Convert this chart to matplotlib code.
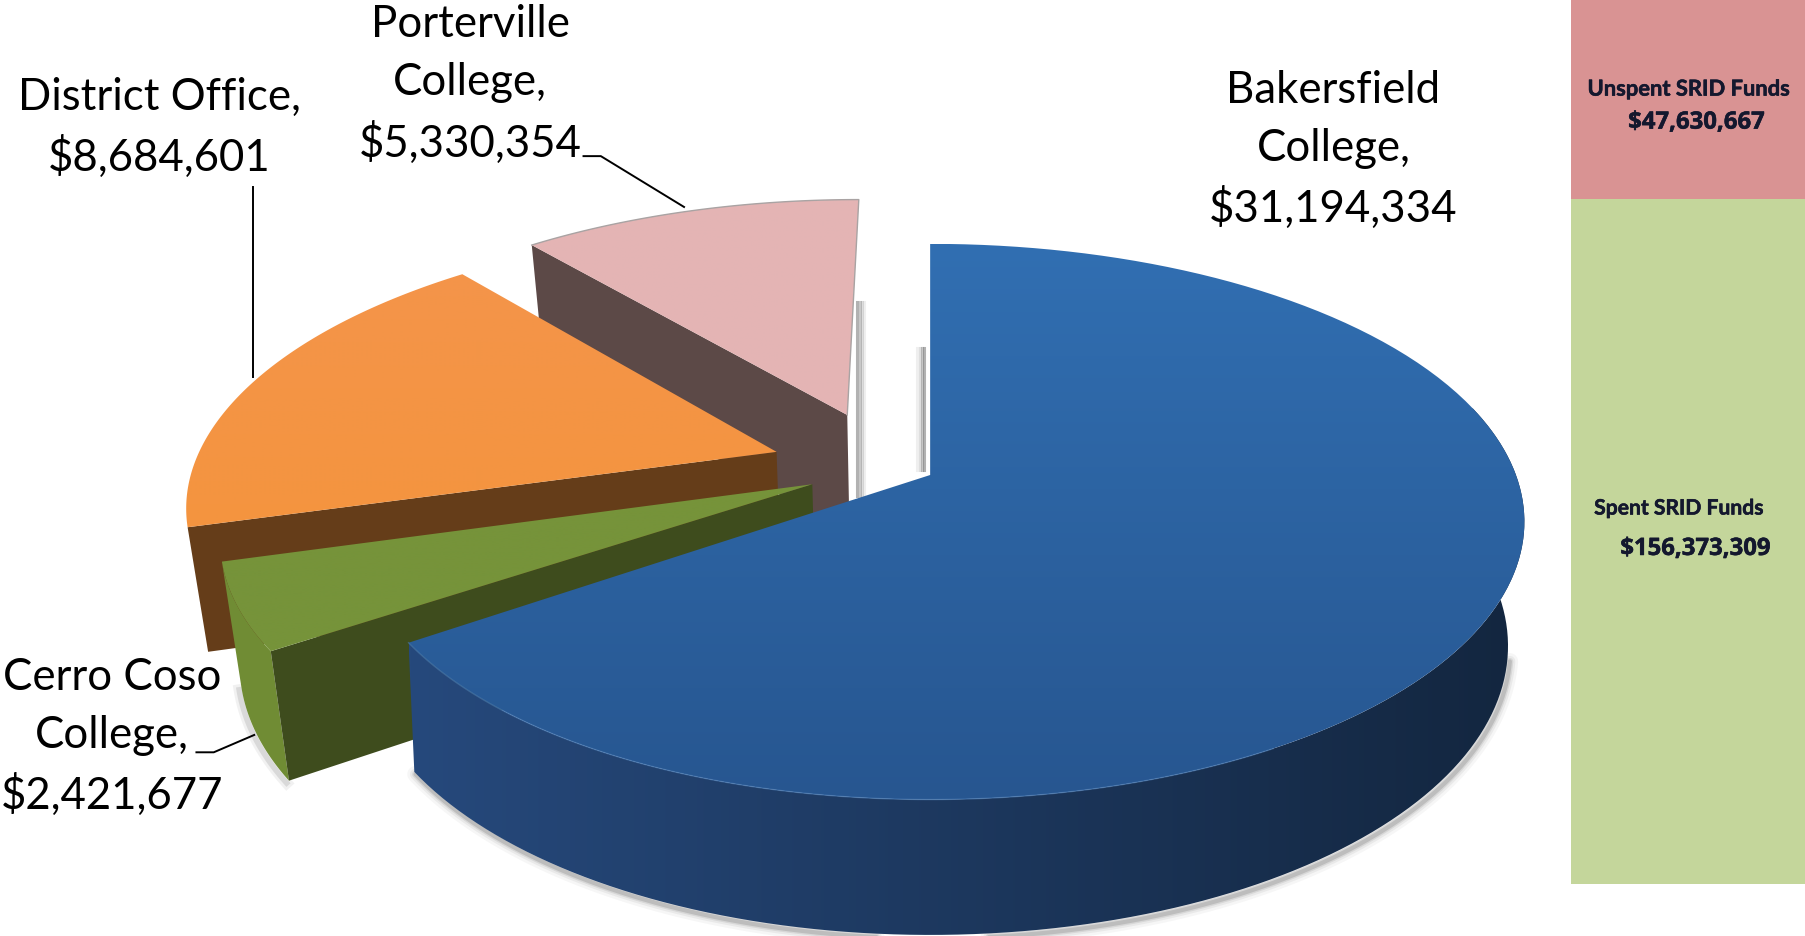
import numpy as np
import matplotlib
matplotlib.use("Agg")
import matplotlib.pyplot as plt
import matplotlib.patheffects as pe
from matplotlib.patches import Polygon

colleges = ["Bakersfield\nCollege,", "Cerro Coso\nCollege,", "District Office,", "Porterville\nCollege,"]
funds = [31194334, 2421677, 8684601, 5330354]

bar_names = ["Spent SRID Funds", "Unspent SRID Funds"]
bar_values = [156373309, 47630667]

# looks
top_from = ["#316FB2", "#76933A", "#F4954A", "#E4B5B5"]
top_to = ["#275690", "#76933A", "#F4943F", "#E4B4B4"]
cut_color = [None, "#3E4C1D", "#653D19", "#5C4947"]
explode_u = [0.0, -0.2, -0.266, -0.147]
explode_v = [0.0, -0.034, 0.087, 0.231]
radius = [1.0, 0.985, 1.0, 1.0]
lean_top = [0.03, 0, 0, 0]
lean_bottom = [0.01, 0, 0, 0]
label_pos = [(1154, 130), (97, 638), (138, 111), (407, 73)]

plt.rcParams["font.family"] = ["Lato", "DejaVu Sans"]

fig = plt.figure(figsize=(18.06, 9.37), dpi=100)
ax = fig.add_axes([0, 0, 1, 1])
W, H = 1563, 811


def project(u, v, bottom=False):
    # pie plane -> picture, the far side is squeezed a bit
    q = 1 + 0.168 * v
    if bottom:
        return 805 + 493 * u / q, 518 - 243 * v / q
    return 805 + 507 * u / q, 412 - 233.7 * v / q


def arc(a0, a1, i, bottom=False, n=120):
    t = np.radians(np.linspace(a0, a1, n))
    u = radius[i] * np.cos(t)
    # left side of the big slice sits a little closer in
    lean = lean_bottom[i] if bottom else lean_top[i]
    u = u * (1 + lean * np.minimum(u, 0))
    return project(u + explode_u[i], radius[i] * np.sin(t) + explode_v[i], bottom)


def gradient(pts, c0, c1, zorder, horizontal=False):
    poly = Polygon(pts, closed=True, fc="none", ec="none", zorder=zorder, transform=ax.transData)
    ax.add_patch(poly)
    a = np.array(matplotlib.colors.to_rgb(c0))
    b = np.array(matplotlib.colors.to_rgb(c1))
    f = np.linspace(0, 1, 256)[:, None]
    img = (a + (b - a) * f)[None, :, :] if horizontal else (a + (b - a) * f)[:, None, :]
    x0, y0 = pts.min(axis=0)
    x1, y1 = pts.max(axis=0)
    im = ax.imshow(img, extent=(x0, x1, y1, y0), aspect="auto", zorder=zorder, interpolation="bilinear")
    im.set_clip_path(poly)


shares = np.array(funds) / sum(funds) * 360
ends = 90 - np.cumsum(shares)
starts = np.r_[90, ends[:-1]]

# far slices first, blue last
z = 3
for i in [3, 2, 1, 0]:
    a0, a1 = starts[i], ends[i]
    ax_, ay_ = project(explode_u[i], explode_v[i])
    bx_, by_ = project(explode_u[i], explode_v[i], True)
    tx, ty = arc(a0, a1, i)
    bx, by = arc(a0, a1, i, True)

    if i == 0:
        # soft shadow along the bottom edge
        sx, sy = arc(-146, -12, i, True)
        for w, al in [(12, 0.05), (8, 0.08), (5, 0.12), (3, 0.2)]:
            ax.plot(sx + 2, sy + 3, color="#555555", lw=w, alpha=al, zorder=z, solid_capstyle="round")
        z += 1
        rim_x, rim_y = arc(a1, 15, i)
        rimb_x, rimb_y = arc(a1, 15, i, True)
        pts = np.c_[np.r_[rim_x, rimb_x[::-1]], np.r_[rim_y, rimb_y[::-1]]]
        gradient(pts, "#26497C", "#13263F", z, horizontal=True)
        z += 1
    else:
        if i == 1:
            for w, al in [(8, 0.08), (4, 0.15)]:
                ax.plot(bx - 2, by + 2, color="#555555", lw=w, alpha=al, zorder=z)
            z += 1
            rim = np.c_[np.r_[tx, bx[::-1]], np.r_[ty, by[::-1]]]
            ax.add_patch(Polygon(rim, closed=True, fc="#708C34", ec="none", zorder=z))
            z += 1
        # cut face towards the viewer
        face = np.array([[ax_, ay_], [tx[0], ty[0]], [bx[0], by[0]], [bx_, by_]])
        ax.add_patch(Polygon(face, closed=True, fc=cut_color[i], ec="none", zorder=z))
        z += 1

    pts = np.c_[np.r_[ax_, tx], np.r_[ay_, ty]]
    gradient(pts, top_from[i], top_to[i], z)
    z += 1
    if i == 3:
        ax.plot(np.r_[tx, ax_], np.r_[ty, ay_], color="#A9A3A3", lw=1, zorder=z)
    if i == 0:
        fx, fy = arc(a1, -60, i)
        ax.plot(fx, fy, color="#4F82BD", lw=1, alpha=0.5, zorder=z)
    z += 1

# shadows in the gap between pink and blue
for k, al in enumerate([0.5, 0.35, 0.2, 0.1]):
    ax.plot([742 + k * 2, 742 + k * 2], [262, 430], color="#666666", lw=2.2, alpha=al, zorder=2)
    ax.plot([800 - k * 2, 800 - k * 2], [302, 408], color="#666666", lw=2.2, alpha=al, zorder=2)

# leader lines
ax.plot([505, 520, 592], [136, 136, 180], color="black", lw=1.4, zorder=z)
ax.plot([219, 219], [163, 327], color="black", lw=1.4, zorder=z)
ax.plot([170, 185, 220], [652, 652, 637], color="black", lw=1.4, zorder=z)

for name, val, (x, y) in zip(colleges, funds, label_pos):
    ax.text(x, y, f"{name}\n${val:,}", ha="center", va="center", fontsize=31.5, color="black",
            linespacing=1.52, zorder=z + 1)

ax.set_xlim(0, W)
ax.set_ylim(H, 0)
ax.axis("off")

# stacked bar on the right, runs past the top of the picture
ax2 = fig.add_axes([1360 / W, 1 - 766 / H, 203 / W, 766 / H])
ax2.bar([0], [bar_values[0]], width=1, color="#C4D69B")
ax2.bar([0], [bar_values[1]], width=1, bottom=[bar_values[0]], color="#D99393")
ax2.set_xlim(-0.5, 0.5)
ax2.set_ylim(0, bar_values[0] * 766 / 593)
ax2.axis("off")

navy = "#14182E"
heavy = [pe.withStroke(linewidth=0.4, foreground=navy)]
panel = [(1462, 78, bar_names[1], "Lato", 15.8),
         (1468, 107, f"${bar_values[1]:,}", "Open Sans", 17.2),
         (1453, 441, bar_names[0], "Lato", 15.2),
         (1467, 476, f"${bar_values[0]:,}", "Open Sans", 17.2)]
for x, y, s, fam, fs in panel:
    ax.text(x, y, s, ha="center", va="center", fontsize=fs, family=fam, weight="bold", color=navy,
            zorder=z + 2, path_effects=heavy)
ax.set_zorder(ax2.get_zorder() + 1)
ax.patch.set_visible(False)

fig.savefig("out.png", dpi=100)
